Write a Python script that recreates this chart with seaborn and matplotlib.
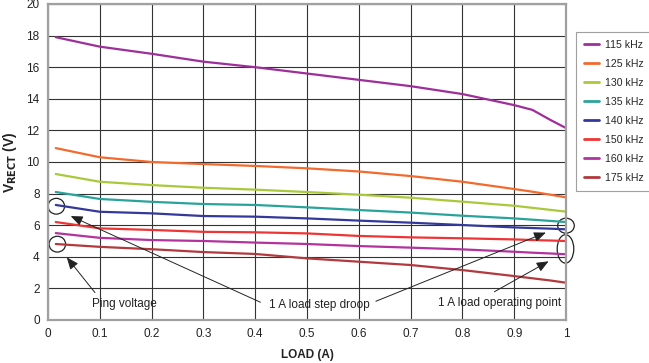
import matplotlib
matplotlib.use("Agg")
import matplotlib.pyplot as plt
import seaborn as sns
import pandas as pd
from matplotlib.patches import Ellipse

load = [0.015, 0.1, 0.2, 0.3, 0.4, 0.5, 0.6, 0.7, 0.8, 0.9, 0.935, 0.97, 1.0]
v115 = [17.9, 17.3, 16.85, 16.35, 16.0, 15.6, 15.2, 14.8, 14.3, 13.6, 13.3, 12.66, 12.15]
v125 = [10.88, 10.3, 10.0, 9.87, 9.75, 9.6, 9.4, 9.11, 8.75, 8.29, 8.12, 7.93, 7.76]
v130 = [9.24, 8.75, 8.54, 8.37, 8.25, 8.1, 7.93, 7.74, 7.49, 7.23, 7.1, 6.97, 6.86]
v135 = [8.1, 7.66, 7.48, 7.34, 7.28, 7.13, 6.96, 6.8, 6.6, 6.43, 6.35, 6.27, 6.2]
v140 = [7.28, 6.85, 6.75, 6.58, 6.54, 6.43, 6.29, 6.16, 6.01, 5.86, 5.82, 5.78, 5.74]
v150 = [6.2, 5.8, 5.7, 5.58, 5.55, 5.48, 5.32, 5.23, 5.17, 5.1, 5.06, 5.03, 5.0]
v160 = [5.5, 5.2, 5.06, 5.0, 4.9, 4.81, 4.68, 4.58, 4.47, 4.32, 4.26, 4.21, 4.16]
v175 = [4.81, 4.63, 4.48, 4.3, 4.18, 3.9, 3.69, 3.48, 3.16, 2.78, 2.64, 2.5, 2.36]

series_names = ["115 kHz", "125 kHz", "130 kHz", "135 kHz", "140 kHz", "150 kHz", "160 kHz", "175 kHz"]
series_vals = [v115, v125, v130, v135, v140, v150, v160, v175]
colors = ["#9E2F9A", "#F26A2E", "#A9C93B", "#2AA39C", "#33399A", "#EE3535", "#B2339E", "#B23A3E"]

x_ticks = [0, 0.1, 0.2, 0.3, 0.4, 0.5, 0.6, 0.7, 0.8, 0.9, 1]
x_tick_labels = ["0", "0.1", "0.2", "0.3", "0.4", "0.5", "0.6", "0.7", "0.8", "0.9", "1"]
y_ticks = [0, 2, 4, 6, 8, 10, 12, 14, 16, 18, 20]

rows = []
for name, vals in zip(series_names, series_vals):
    for xv, yv in zip(load, vals):
        rows.append({"load": xv, "v": yv, "freq": name})
df = pd.DataFrame(rows)

sns.set_theme(style="white")
plt.rcParams["font.family"] = ["Liberation Sans", "DejaVu Sans"]

fig = plt.figure(figsize=(6.49, 3.63), dpi=100)
ax = fig.add_axes([48/649, 43/363, 518/649, 316/363])

sns.lineplot(data=df, x="load", y="v", hue="freq", hue_order=series_names,
             palette=colors, linewidth=1.6, ax=ax)

ax.set_xlim(0, 1)
ax.set_ylim(0, 20)
ax.set_xticks(x_ticks)
ax.set_xticklabels(x_tick_labels)
ax.set_yticks(y_ticks)
ax.tick_params(axis="both", labelsize=8.5, colors="#222222", length=0, pad=6)
ax.grid(True, color="#333333", linewidth=0.8)
for s in ax.spines.values():
    s.set_color("#a0a0a0")
    s.set_linewidth(1.6)
ax.set_axisbelow(True)

ax.set_xlabel("LOAD (A)", fontsize=8.5, fontweight="bold", color="#222222", labelpad=6)
ax.set_ylabel(r"V$_{\mathbf{RECT}}$ (V)", fontsize=10, fontweight="bold", color="#222222", labelpad=5)

leg = ax.legend(loc="upper left", bbox_to_anchor=(1.019, 0.911), borderaxespad=0,
                fontsize=7.6, frameon=True, fancybox=False, handlelength=1.4,
                labelspacing=0.85, borderpad=0.75, handletextpad=0.6)
leg.get_frame().set_edgecolor("#888888")
leg.get_frame().set_linewidth(0.8)
for line in leg.get_lines():
    line.set_linewidth(2.0)

# ellipses
ell_kw = dict(fill=False, edgecolor="#222222", linewidth=0.9, clip_on=False)
ax.add_patch(Ellipse((0.016, 7.2), 0.032, 1.0, **ell_kw))
ax.add_patch(Ellipse((0.018, 4.8), 0.032, 1.0, **ell_kw))
ax.add_patch(Ellipse((1.0, 5.97), 0.032, 0.95, **ell_kw))
ax.add_patch(Ellipse((0.999, 4.5), 0.032, 1.8, **ell_kw))

arrow_kw = dict(arrowstyle="-|>,head_length=0.6,head_width=0.25", color="#222222", lw=0.7)
tkw = dict(fontsize=8.5, color="#222222", ha="center", va="center")

ax.text(0.147, 1.0, "Ping voltage", **tkw)
ax.annotate("", xy=(0.033, 4.1), xytext=(0.094, 1.6), arrowprops=arrow_kw)

ax.text(0.524, 0.98, "1 A load step droop", **tkw)
ax.annotate("", xy=(0.039, 6.65), xytext=(0.415, 1.05), arrowprops=arrow_kw)
ax.annotate("", xy=(0.966, 5.6), xytext=(0.628, 1.12), arrowprops=arrow_kw)

ax.text(0.871, 1.05, "1 A load operating point", **tkw)
ax.annotate("", xy=(0.971, 3.8), xytext=(0.857, 1.7), arrowprops=arrow_kw)

fig.savefig("out.png", dpi=100)
